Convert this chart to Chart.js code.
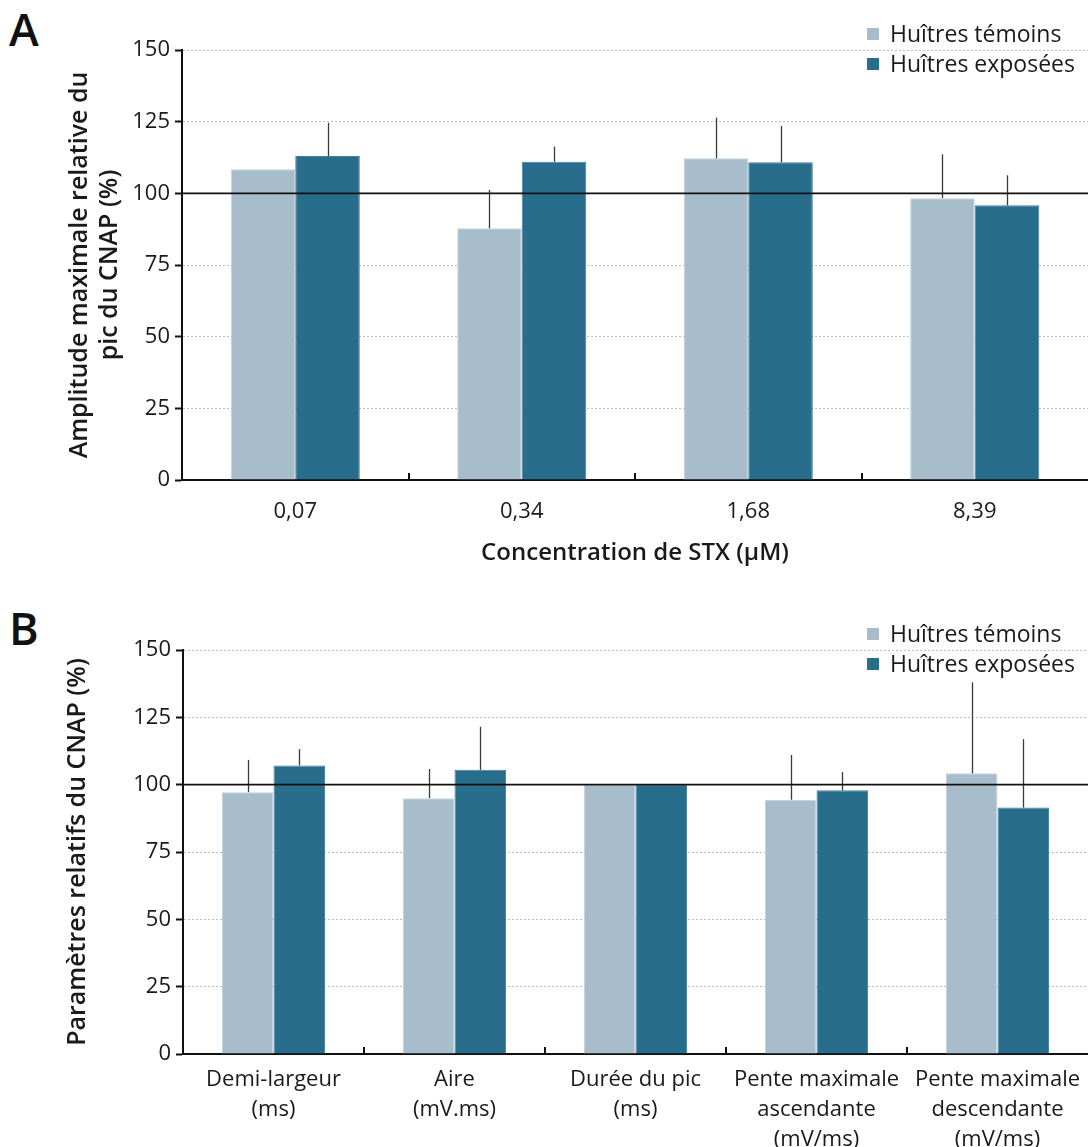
<!DOCTYPE html>
<html>
<head>
<meta charset="utf-8">
<script src="https://cdn.jsdelivr.net/npm/chart.js@4.4.1/dist/chart.umd.min.js"></script>
<style>
  body { margin: 0; background: #fff; width: 1088px; height: 1147px; position: relative; overflow: hidden; font-family: 'Open Sans', sans-serif; }
  .panel { position: absolute; left: 0; width: 1088px; }
  .lettre { position: absolute; left: 9px; font-family: 'Open Sans', sans-serif; font-weight: 600; font-size: 45px; line-height: 1; color: #111; }
</style>
</head>
<body>
<div class="lettre" style="top:6px">A</div>
<div class="panel" style="top:0;height:580px"><canvas id="chartA" width="1088" height="580"></canvas></div>
<div class="lettre" style="top:605px">B</div>
<div class="panel" style="top:580px;height:567px"><canvas id="chartB" width="1088" height="567"></canvas></div>

<script>
// donnees panneau A
const concentrations = ['0,07', '0,34', '1,68', '8,39'];
const temoinsA = [108.4, 87.8, 112.2, 98.3];
const temoinsA_sd = [0, 13.4, 14.2, 15.3];
const exposeesA = [113.0, 111.0, 110.8, 95.8];
const exposeesA_sd = [11.6, 5.3, 12.7, 10.5];

// donnees panneau B
const parametres = [
  ['Demi-largeur', '(ms)'],
  ['Aire', '(mV.ms)'],
  ['Durée du pic', '(ms)'],
  ['Pente maximale', 'ascendante', '(mV/ms)'],
  ['Pente maximale', 'descendante', '(mV/ms)']
];
const temoinsB = [97.2, 95.0, 100, 94.4, 104.2];
const temoinsB_sd = [12.0, 10.8, 0, 16.6, 33.8];
const exposeesB = [107.1, 105.5, 100, 97.9, 91.5];
const exposeesB_sd = [6.1, 16.0, 0, 6.8, 25.4];

const seriesLabels = ['Huîtres témoins', 'Huîtres exposées'];
const yMin = 0, yMax = 150, yStep = 25;
const ligneRef = 100;

const CLAIR = '#a7bdcc';
const FONCE = '#286d8b';
const FONT = "'Open Sans', sans-serif";

// barres d'erreur, ligne 100, petits ticks de l'axe x et legende
const decorPlugin = {
  id: 'decor',
  afterDatasetsDraw(chart) {
    const { ctx, chartArea, scales: { x, y } } = chart;
    ctx.save();
    // erreurs (vers le haut seulement)
    chart.data.datasets.forEach((ds, i) => {
      const meta = chart.getDatasetMeta(i);
      meta.data.forEach((bar, j) => {
        const sd = ds.sd[j];
        if (!sd) return;
        const top = y.getPixelForValue(ds.data[j] + sd);
        ctx.strokeStyle = '#3a3a3a';
        ctx.lineWidth = 1.3;
        ctx.beginPath();
        ctx.moveTo(Math.round(bar.x) + 0.5, bar.y);
        ctx.lineTo(Math.round(bar.x) + 0.5, top);
        ctx.stroke();
      });
    });
    // ligne a 100
    const y100 = y.getPixelForValue(ligneRef);
    ctx.strokeStyle = '#111';
    ctx.lineWidth = 1.6;
    ctx.beginPath();
    ctx.moveTo(chartArea.left, y100);
    ctx.lineTo(chartArea.right, y100);
    ctx.stroke();
    // ticks entre categories
    ctx.lineWidth = 2;
    for (let i = 1; i < chart.data.labels.length; i++) {
      const px = Math.round((x.getPixelForValue(i - 1) + x.getPixelForValue(i)) / 2);
      ctx.beginPath();
      ctx.moveTo(px, chartArea.bottom);
      ctx.lineTo(px, chartArea.bottom - 7);
      ctx.stroke();
    }
    ctx.restore();
  },
  afterDraw(chart) {
    const { ctx, chartArea } = chart;
    ctx.save();
    ctx.font = '23px ' + FONT;
    ctx.textBaseline = 'middle';
    chart.data.datasets.forEach((ds, i) => {
      const yy = chartArea.top - 16 + i * 30;
      ctx.fillStyle = ds.backgroundColor;
      ctx.fillRect(867, yy - 6, 12, 12);
      ctx.fillStyle = '#1a1a1a';
      ctx.fillText(ds.label, 890, yy + 1);
    });
    ctx.restore();
  }
};

function makeChart(id, labels, tem, temSd, exp, expSd, yTitle, xTitle, cfg) {
  const ctx = document.getElementById(id).getContext('2d');
  return new Chart(ctx, {
    type: 'bar',
    data: {
      labels: labels,
      datasets: [
        { label: seriesLabels[0], data: tem, sd: temSd, backgroundColor: CLAIR, borderColor: '#c3d2dd', borderWidth: 1, borderSkipped: 'bottom' },
        { label: seriesLabels[1], data: exp, sd: expSd, backgroundColor: FONCE, borderColor: '#3f7f9b', borderWidth: 1, borderSkipped: 'bottom' }
      ]
    },
    options: {
      responsive: false,
      animation: false,
      layout: { padding: { top: cfg.top, right: 0, left: 0, bottom: 0 } },
      datasets: { bar: { categoryPercentage: 0.57, barPercentage: 1.0 } },
      plugins: { legend: { display: false }, tooltip: { enabled: false } },
      scales: {
        y: {
          min: yMin, max: yMax,
          ticks: { stepSize: yStep, font: { family: FONT, size: 22 }, color: '#1a1a1a', padding: 5 },
          grid: { color: '#bdbdbd', lineWidth: 1, tickColor: '#111', tickWidth: 2, tickLength: 7 },
          border: { color: '#111', width: 2, dash: [2, 2] },
          title: {
            display: true, text: yTitle, color: '#1a1a1a',
            font: { family: FONT, size: 25, weight: '600', lineHeight: 1.2 },
            padding: { top: cfg.yTitlePad, bottom: 0 }
          },
          afterFit(s) { s.width = cfg.left; }
        },
        x: {
          grid: { display: false },
          border: { color: '#111', width: 2 },
          ticks: { font: { family: FONT, size: 22, lineHeight: 1.35 }, color: '#1a1a1a', padding: cfg.xPad, maxRotation: 0, autoSkip: false },
          title: {
            display: !!xTitle, text: xTitle, color: '#1a1a1a',
            font: { family: FONT, size: 24, weight: '600' },
            padding: { top: 0, bottom: cfg.xTitlePad }
          },
          afterFit(s) { s.height = cfg.xHeight; }
        }
      }
    },
    plugins: [decorPlugin]
  });
}

makeChart('chartA', concentrations, temoinsA, temoinsA_sd, exposeesA, exposeesA_sd,
  ['Amplitude maximale relative du', 'pic du CNAP (%)'], 'Concentration de STX (μM)',
  { top: 50, left: 182, xHeight: 100, xPad: 9, xTitlePad: 12, yTitlePad: 65 });

makeChart('chartB', parametres, temoinsB, temoinsB_sd, exposeesB, exposeesB_sd,
  'Paramètres relatifs du CNAP (%)', '',
  { top: 70, left: 183, xHeight: 93, xPad: 3, xTitlePad: 0, yTitlePad: 63 });
</script>
</body>
</html>
